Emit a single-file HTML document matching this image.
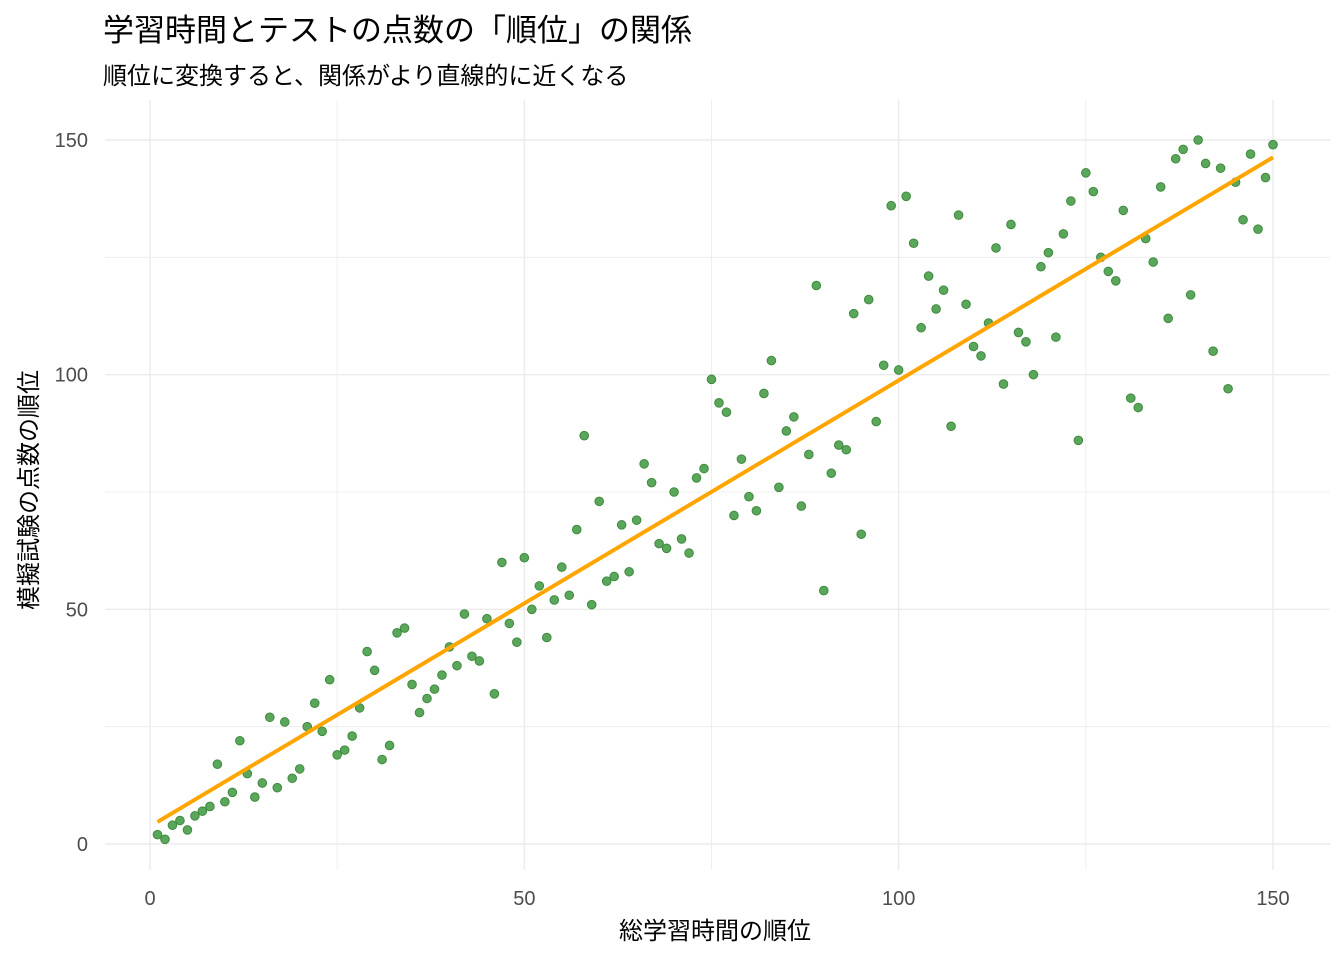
<!DOCTYPE html>
<html><head><meta charset="utf-8"><style>
body{margin:0;background:#fff;}
svg text{font-family:"Liberation Sans","Noto Sans CJK JP",sans-serif;}
</style></head><body>
<svg id="chart" width="1344" height="960" xmlns="http://www.w3.org/2000/svg">
<text x="103" y="41" font-size="31" fill="#000">学習時間とテストの点数の「順位」の関係</text>
<text x="103" y="84" font-size="24" fill="#000">順位に変換すると、関係がより直線的に近くなる</text>
<g id="grid"></g>
<g id="axes"></g>
<g id="points"></g>
<g id="fit"></g>
<text x="715" y="939" font-size="24" text-anchor="middle" fill="#000">総学習時間の順位</text>
<text transform="translate(37,490) rotate(-90)" font-size="24" text-anchor="middle" fill="#000">模擬試験の点数の順位</text>
</svg>
<script>
const xRanks = Array.from({length:150},(_, i)=>i+1);
const yRanks = [2,1,4,5,3,6,7,8,17,9,11,22,15,10,13,27,12,26,14,16,25,30,24,35,19,20,23,29,41,37,18,21,45,46,34,28,31,33,36,42,38,49,40,39,48,32,60,47,43,61,50,55,44,52,59,53,67,87,51,73,56,57,68,58,69,81,77,64,63,75,65,62,78,80,99,94,92,70,82,74,71,96,103,76,88,91,72,83,119,54,79,85,84,113,66,116,90,102,136,101,138,128,110,121,114,118,89,134,115,106,104,111,127,98,132,109,107,100,123,126,108,130,137,86,143,139,125,122,120,135,95,93,129,124,140,112,146,148,117,150,145,105,144,97,141,133,147,131,142,149];
const xTicks = [0,50,100,150];
const yTicks = [0,50,100,150];
const ns="http://www.w3.org/2000/svg";
const X0=105,X1=1330,Y0=870,Y1=100;
const sx=v=>150+v*(1273-150)/150;
const sy=v=>844-v*(844-140)/150;
function mk(tag,attrs,parent){const e=document.createElementNS(ns,tag);for(const k in attrs)e.setAttribute(k,attrs[k]);parent.appendChild(e);return e;}
const grid=document.getElementById('grid'),axes=document.getElementById('axes');
for(let v=0;v<=150;v+=25){
  const major=v%50===0;
  const gx=mk('line',{x1:sx(v),x2:sx(v),y1:Y1,y2:Y0,stroke:'#ebebeb','stroke-width':major?1.4:0.8},grid);
  
  
  const gy=mk('line',{x1:X0,x2:X1,y1:sy(v),y2:sy(v),stroke:'#ebebeb','stroke-width':major?1.4:0.8},grid);
  
  
}
xTicks.forEach(t=>{const e=mk('text',{x:sx(t),y:905,'font-size':20,'text-anchor':'middle',fill:'#4d4d4d'},axes);e.textContent=t;
  
  });
yTicks.forEach(t=>{const e=mk('text',{x:88,y:sy(t)+7,'font-size':20,'text-anchor':'end',fill:'#4d4d4d'},axes);e.textContent=t;
  
  });
const pts=document.getElementById('points');
xRanks.forEach((x,i)=>{const c=mk('circle',{cx:sx(x),cy:sy(yRanks[i]),r:4.3,fill:'#5aa65a',stroke:'#3f8a3f','stroke-width':1},pts);
  
  });
const n=xRanks.length;const mx=xRanks.reduce((a,b)=>a+b)/n,my=yRanks.reduce((a,b)=>a+b)/n;
let sxy=0,sxx=0;xRanks.forEach((x,i)=>{sxy+=(x-mx)*(yRanks[i]-my);sxx+=(x-mx)*(x-mx);});
const b=sxy/sxx,a=my-b*mx;
const xmin=Math.min(...xRanks),xmax=Math.max(...xRanks);
const fl=mk('line',{x1:sx(xmin),y1:sy(a+b*xmin),x2:sx(xmax),y2:sy(a+b*xmax),stroke:'#FFA500','stroke-width':4},document.getElementById('fit'));


</script>
</body></html>
